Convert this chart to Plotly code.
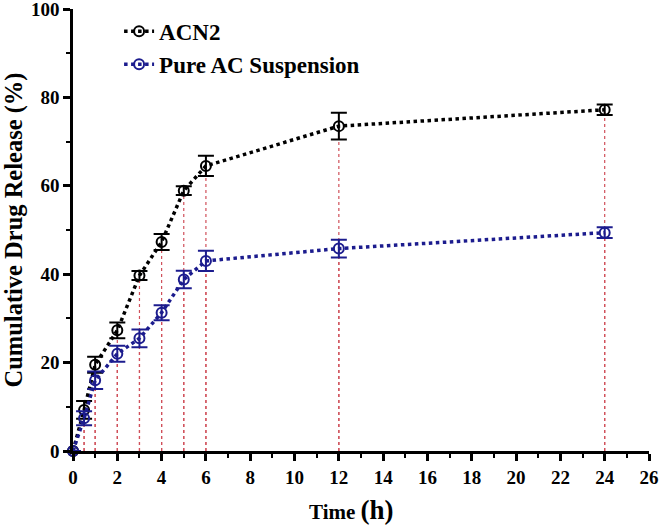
import plotly.graph_objects as go

time_h = [0, 0.5, 1, 2, 3, 4, 5, 6, 12, 24]
acn2 = [0, 9.3, 19.5, 27.3, 39.7, 47.3, 58.9, 64.5, 73.5, 77.2]
acn2_err = [0, 2.0, 1.8, 1.8, 1.0, 1.8, 1.0, 2.3, 3.0, 1.2]
pure = [0, 7.4, 16.0, 22.0, 25.5, 31.3, 38.8, 43.0, 45.8, 49.4]
pure_err = [0, 1.6, 2.0, 1.8, 2.0, 1.7, 2.0, 2.3, 2.0, 1.2]

x_ticks = list(range(0, 27, 2))
y_ticks = list(range(0, 101, 20))

FONT = "Liberation Serif, Times New Roman, serif"
BLUE = "#1c1c8e"
RED = "#d0505a"

fig = go.Figure()

# drop lines from each point to the x axis
for vals in (acn2, pure):
    dx, dy = [], []
    for t, v in zip(time_h, vals):
        if t == 0:
            continue
        dx += [t, t, None]
        dy += [0, v, None]
    fig.add_trace(go.Scatter(x=dx, y=dy, mode="lines", showlegend=False,
                             line=dict(color=RED, width=1.2, dash="dot"),
                             hoverinfo="skip"))

fig.add_trace(go.Scatter(
    x=time_h, y=acn2, name="ACN2", mode="lines+markers",
    line=dict(color="black", width=3.5, dash="dot"),
    marker=dict(symbol="circle-open", size=10, color="black", line=dict(width=2)),
    error_y=dict(type="data", array=acn2_err, color="black", thickness=2, width=8),
    cliponaxis=False))
fig.add_trace(go.Scatter(
    x=time_h, y=pure, name="Pure AC Suspension", mode="lines+markers",
    line=dict(color=BLUE, width=3.5, dash="dot"),
    marker=dict(symbol="circle-open", size=10, color=BLUE, line=dict(width=2)),
    error_y=dict(type="data", array=pure_err, color=BLUE, thickness=2, width=8),
    cliponaxis=False))

fig.add_annotation(
    text="Time <span style='font-size:27px'>(h)</span>",
    xref="paper", yref="paper", x=0.483, y=-0.133,
    xanchor="center", yanchor="middle", showarrow=False,
    font=dict(family=FONT, size=21, color="black", weight="bold"))

fig.update_layout(
    width=661, height=526,
    margin=dict(l=73, r=12, t=9, b=75),
    paper_bgcolor="white", plot_bgcolor="white",
    font=dict(family=FONT, color="black", size=16),
    legend=dict(x=0.08, y=0.998, xanchor="left", yanchor="top",
                bgcolor="rgba(0,0,0,0)",
                font=dict(family=FONT, size=23, color="black", weight="bold"),
                tracegroupgap=0),
    xaxis=dict(range=[0, 26], tickvals=x_ticks, ticktext=[str(v) for v in x_ticks],
               automargin=False, ticklabeloverflow="allow",
               showgrid=False, zeroline=False, showline=True, linecolor="black",
               linewidth=2.5, ticks="outside", ticklen=7, tickwidth=2.5,
               tickcolor="black",
               minor=dict(dtick=1, ticks="outside", ticklen=4, tickwidth=2,
                          tickcolor="black", showgrid=False),
               tickfont=dict(family=FONT, size=19, color="black", weight="bold")),
    yaxis=dict(range=[0, 100], tickvals=y_ticks, ticktext=[str(v) for v in y_ticks],
               automargin=False, ticklabeloverflow="allow",
               showgrid=False, zeroline=False, showline=True, linecolor="black",
               linewidth=2.5, ticks="outside", ticklen=7, tickwidth=2.5,
               tickcolor="black",
               minor=dict(dtick=10, ticks="outside", ticklen=4, tickwidth=2,
                          tickcolor="black", showgrid=False),
               tickfont=dict(family=FONT, size=19, color="black", weight="bold"),
               title=dict(text="Cumulative Drug Release (%)",
                          font=dict(family=FONT, size=24.5, color="black", weight="bold"),
                          standoff=5)),
)

fig.write_html("out.html", config={"displayModeBar": False},
               post_script="document.body.style.margin='0px';document.body.style.overflow='hidden';")
